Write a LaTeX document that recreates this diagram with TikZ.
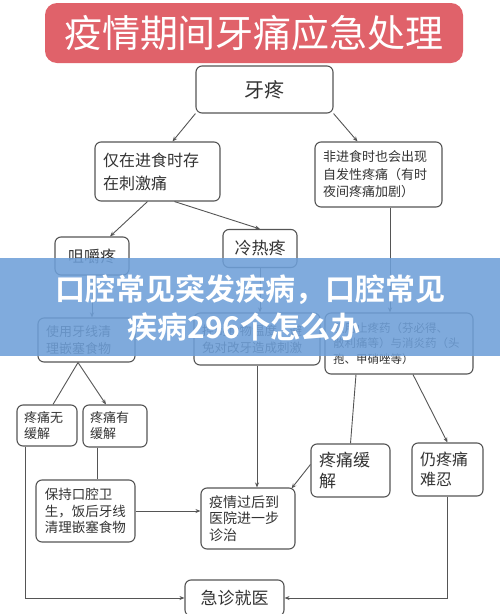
\documentclass[tikz,border=0pt]{standalone}
\usepackage{fontspec}
\setmainfont{Noto Sans CJK SC}[BoldFont={* Bold}]
\usepackage{tikz}
\usetikzlibrary{arrows.meta,calc}
\definecolor{ttred}{HTML}{E0626A}
\definecolor{bxgrey}{HTML}{555555}
\definecolor{txgrey}{HTML}{333333}
\definecolor{bnblue}{HTML}{6E9FD8}
\tikzset{
  bx/.style = {rectangle, rounded corners=6pt, draw=bxgrey, line width=1.1pt,
               fill=white, inner sep=0pt, align=center, text=txgrey},
  lb/.style = {bx, align=left, inner xsep=8pt},
  ed/.style = {-{Stealth[length=5pt,width=4pt]}, draw=bxgrey, line width=0.9pt},
  ln/.style = {draw=bxgrey, line width=0.9pt},
  bn/.style = {font=\fontsize{30}{32}\selectfont\bfseries, text=white, inner sep=0pt},
}

\begin{document}
\begin{tikzpicture}[x=1pt,y=-1pt]
  \useasboundingbox (0,0) rectangle (500,614);
  \node[bx, fill=ttred, draw=none, rounded corners=12pt, minimum width=418pt, minimum height=60pt,
        text=white, font=\fontsize{38}{40}\selectfont] (ttl) at (254,33) {疫情期间牙痛应急处理};
  \node[bx, minimum width=137pt, minimum height=47pt, font=\fontsize{20}{22}\selectfont] (ya) at (264.5,89.5) {牙疼};
  \node[lb, text width=109pt, minimum height=59pt, font=\fontsize{16}{23}\selectfont] (jin) at (157.5,171.5) {仅在进食时存\\在刺激痛};
  \node[lb, text width=111pt, minimum height=65pt, font=\fontsize{13}{17.5}\selectfont] (fei) at (378.5,174.5) {非进食时也会出现\\自发性疼痛（有时\\夜间疼痛加剧）};
  \node[bx, minimum width=74pt, minimum height=38pt, font=\fontsize{16}{18}\selectfont] (jue) at (92,256) {咀嚼疼};
  \node[bx, minimum width=74pt, minimum height=38pt, font=\fontsize{17}{19}\selectfont] (leng) at (260,248.5) {冷热疼};
  \node[lb, text width=81pt, minimum height=44pt, font=\fontsize{13}{17}\selectfont] (xian) at (86.5,340) {使用牙线清\\理嵌塞食物};
  \node[lb, text width=110pt, minimum height=52pt, font=\fontsize{12.5}{17}\selectfont] (wen) at (257,339) {控制食物温度，避\\免对改牙造成刺激};
  \node[lb, text width=132pt, minimum height=61pt, font=\fontsize{11.5}{15.5}\selectfont] (yao) at (399,343.5) {服用止疼药（芬必得、\\散利痛等）与消炎药（头\\孢、甲硝唑等）};
  \node[lb, text width=46pt, inner xsep=7pt, minimum height=41pt, font=\fontsize{13}{16}\selectfont] (wu) at (47,425.5) {疼痛无\\缓解};
  \node[lb, text width=50pt, inner xsep=7pt, minimum height=42pt, font=\fontsize{13}{16}\selectfont] (you) at (115,426) {疼痛有\\缓解};
  \node[lb, text width=81pt, inner xsep=9pt, minimum height=62pt, font=\fontsize{13.5}{16.5}\selectfont] (bao) at (85.5,511) {保持口腔卫\\生，饭后牙线\\清理嵌塞食物};
  \node[lb, text width=78pt, minimum height=61pt, font=\fontsize{14}{16.5}\selectfont] (yi) at (248,518.5) {疫情过后到\\医院进一步\\诊治};
  \node[lb, text width=63pt, minimum height=53pt, font=\fontsize{17}{21}\selectfont] (huan) at (350.5,470.5) {疼痛缓\\解};
  \node[lb, text width=55pt, minimum height=53pt, font=\fontsize{16}{20}\selectfont] (reng) at (447.5,469.5) {仍疼痛\\难忍};
  \node[bx, minimum width=99pt, minimum height=36pt, font=\fontsize{17}{19}\selectfont] (ji) at (234.5,598) {急诊就医};
  % connectors
  \draw[ed] (ya.south west) -- ($(jin.north)+(15,0)$);
  \draw[ed] (ya.south east) -- ($(fei.north)+(-21,0)$);
  \draw[ed] ($(jin.south)+(-10,0)$) -- ($(jue.north)+(18,0)$);
  \draw[ed] ($(jin.south)+(17,0)$) -- (leng.north);
  \draw[ed] (jue.south) -- (jue.south |- xian.north);
  \draw[ed] (leng.south) -- (leng.south |- wen.north);
  \coordinate (f1) at ($(fei.south)+(11.5,0)$);
  \draw[ed] (f1) -- (f1 |- yao.north);
  \coordinate (x1) at ($(xian.south)+(-8.5,0)$);
  \draw[ln] (x1) -- ($(wu.north)+(6,0)$);
  \draw[ed] (x1) -- ($(you.north)+(-9,0)$);
  \coordinate (y1) at ($(you.south)+(-18,0)$);
  \draw[ln] (y1) -- (y1 |- bao.north);
  \draw[ed] (bao.east) -- (bao.east -| yi.west);
  \coordinate (w1) at ($(wu.south)+(-22,0)$);
  \draw[ed] (w1) |- (ji.west);
  \draw[ed] (wen.south) -- (wen.south |- yi.north);
  \draw[ln] ($(yao.south)+(-43,0)$) -- (huan.north);
  \draw[ed] ($(yao.south)+(14,0)$) -- (reng.north);
  \draw[ed] ($(huan.west)+(0,-6)$) -- ($(yi.north east)+(-4,1)$);
  \draw[ed] (reng.south) |- (ji.east);
  % banner
  \fill[bnblue, opacity=0.88] (0,258) rectangle (500,356);
  \node[bn] (ban1) at (251,290) {口腔常见突发疾病，口腔常见};
  \node[bn] (ban2) at (244,327) {疾病296个怎么办};
\end{tikzpicture}
\end{document}
